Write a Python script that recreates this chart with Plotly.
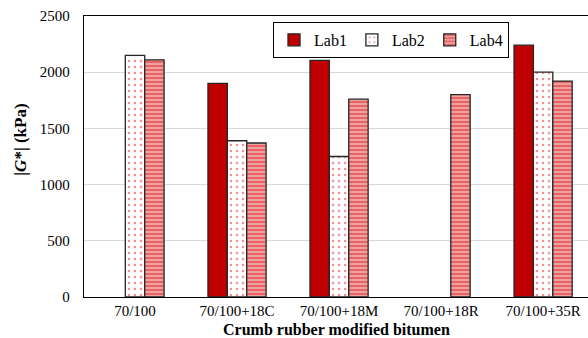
import plotly.graph_objects as go

categories = ["70/100", "70/100+18C", "70/100+18M", "70/100+18R", "70/100+35R"]
lab1 = [None, 1900, 2105, None, 2240]
lab2 = [2150, 1390, 1250, None, 2000]
lab4 = [2110, 1370, 1760, 1800, 1920]
y_ticks = [0, 500, 1000, 1500, 2000, 2500]

FONT = "Liberation Serif"
outline = dict(color="#262626", width=1.3)

fig = go.Figure()
fig.add_trace(go.Bar(
    name="Lab1", x=categories, y=lab1,
    marker=dict(color="#C00000", line=outline),
))
fig.add_trace(go.Bar(
    name="Lab2", x=categories, y=lab2,
    marker=dict(
        color="white", line=outline,
        pattern=dict(shape=".", fillmode="overlay", fgcolor="#E0282E",
                     bgcolor="white", size=6, solidity=0.15),
    ),
))
fig.add_trace(go.Bar(
    name="Lab4", x=categories, y=lab4,
    marker=dict(
        color="#F6C8C8", line=outline,
        pattern=dict(shape="-", fillmode="overlay", fgcolor="#D80000",
                     bgcolor="#F6C8C8", size=4, solidity=0.7),
    ),
))

fig.update_layout(
    width=588, height=338,
    margin=dict(l=84, r=0, t=16, b=41, autoexpand=False),
    paper_bgcolor="white", plot_bgcolor="white",
    barmode="group", bargap=0.43, bargroupgap=0,
    font=dict(family=FONT, size=15, color="black"),
    showlegend=True,
    legend=dict(
        orientation="h", x=0.375, y=0.979, xanchor="left", yanchor="top",
        bordercolor="black", borderwidth=1, bgcolor="white",
        font=dict(family=FONT, size=16, color="black"),
        itemwidth=30, tracegroupgap=0,
    ),
    annotations=[
        dict(text="<b>|<i>G</i>*| (kPa)</b>", textangle=-90,
             xref="paper", yref="paper", x=-0.125, y=0.56,
             xanchor="center", yanchor="middle", showarrow=False,
             font=dict(family=FONT, size=17)),
        dict(text="<b>Crumb rubber modified bitumen</b>",
             xref="paper", yref="paper", x=0.5, y=-0.116,
             xanchor="center", yanchor="middle", showarrow=False,
             font=dict(family=FONT, size=16)),
    ],
)
fig.update_xaxes(
    range=[-0.5, 4.44],
    showline=True, linecolor="black", linewidth=1.3, mirror=True,
    ticks="", ticklabelstandoff=0,
    tickfont=dict(family=FONT, size=15),
)
fig.update_yaxes(
    range=[0, 2500], tickvals=y_ticks,
    showgrid=True, gridcolor="#D9D9D9", gridwidth=1,
    zeroline=False,
    showline=True, linecolor="black", linewidth=1.3,
    ticks="", ticklabelstandoff=10,
    tickfont=dict(family=FONT, size=15),
)

fig.write_html("out.html")
